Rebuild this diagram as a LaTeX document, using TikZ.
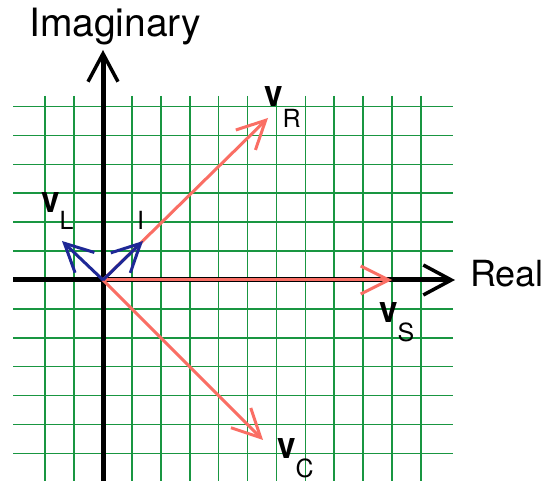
\documentclass[tikz,border=0pt]{standalone}
\usepackage{fontspec}
\setmainfont{TeX Gyre Heros}
\usetikzlibrary{arrows.meta}
\definecolor{gridgreen}{RGB}{25,150,65}
\definecolor{vecred}{RGB}{250,110,100}
\definecolor{vecblue}{RGB}{30,40,150}
\newcommand\vlab[2]{{\fontsize{37}{37}\selectfont\bfseries\scalebox{0.9}[1]{v}}\raisebox{-#2pt}{\fontsize{25}{25}\selectfont #1}}
\begin{document}
\begin{tikzpicture}[x=1pt,y=-1pt,
  gridline/.style={draw=gridgreen,line width=1.6pt},
  axisline/.style={draw=black,line width=5pt,-{Straight Barb[length=28pt,width=30pt,line width=3.5pt]}},
  redvec/.style={draw=vecred,line width=3pt,-{Straight Barb[length=28pt,width=28pt,line width=3pt]}},
  bluevec/.style={draw=vecblue,line width=3pt,-{Straight Barb[length=28pt,width=28pt,line width=3pt]}},
  lab/.style={inner sep=0pt,anchor=base west,text=black}]
\useasboundingbox (0,0) rectangle (555,481);
\fill[white] (0,0) rectangle (555,481);
% grid
\foreach \k in {-6,...,6}
  \draw[gridline] (13,{280+\k*28.9}) -- (453,{280+\k*28.9});
\foreach \k in {-2,-1,1,2,3,4,5,6,7,8,9,10,11}
  \draw[gridline] ({103+\k*28.9},96) -- ({103+\k*28.9},481);
% axes
\coordinate (O) at (103,280);
\coordinate (xstart) at (13,280);
\coordinate (xend) at (455,280);
\coordinate (ystart) at (103,481);
\coordinate (yend) at (103,50);
\draw[axisline] (xstart) -- (xend);
\draw[axisline] (ystart) -- (yend);
\node[lab,font=\fontsize{39}{39}\selectfont] (imag) at (29,37) {Imaginary};
\node[lab,font=\fontsize{36}{36}\selectfont] (real) at (470,287) {Real};
% vectors
\coordinate (VS) at (392,280);
\coordinate (VR) at (268,118);
\coordinate (VC) at (263,440);
\coordinate (VL) at (62,241);
\coordinate (I) at (143,241);
\draw[redvec] (O) -- (VS);
\draw[redvec] (O) -- (VR);
\draw[redvec] (O) -- (VC);
\draw[bluevec] (O) -- (VL);
\draw[bluevec] (O) -- (I);
% labels
\node[lab] (labR) at (264,107) {\vlab{R}{21}};
\node[lab] (labL) at (41,213) {\vlab{L}{17}};
\node[lab] (labS) at (379,323) {\vlab{S}{19}};
\node[lab] (labC) at (277,459) {\vlab{C}{18}};
\node[lab,font=\fontsize{25}{25}\selectfont] (labI) at (137,230) {I};
\end{tikzpicture}
\end{document}
